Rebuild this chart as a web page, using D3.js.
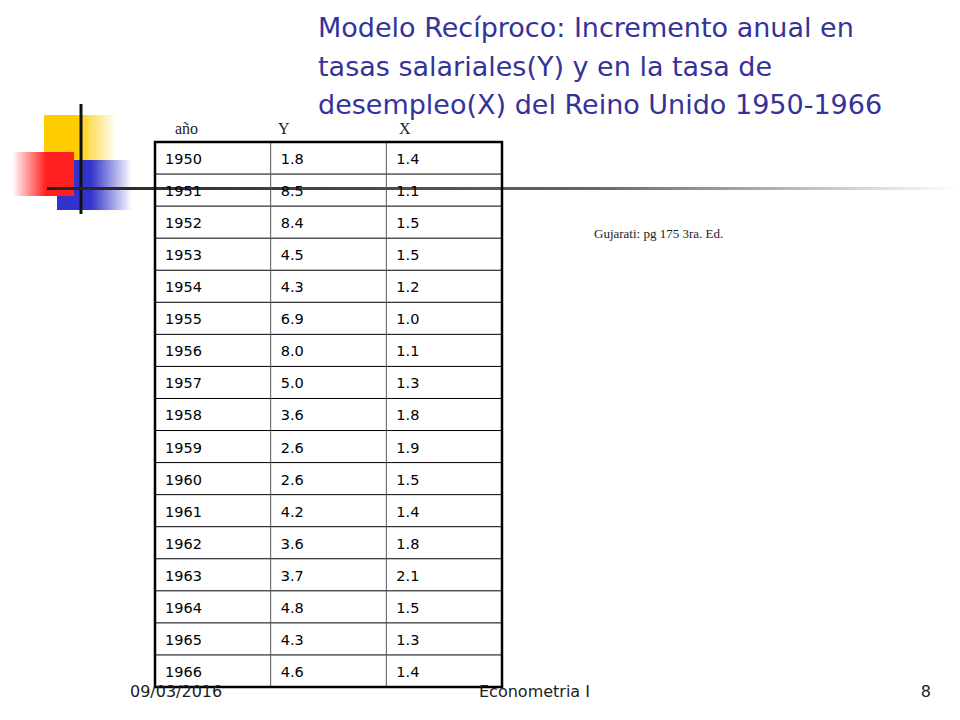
<!DOCTYPE html><html><head><meta charset="utf-8"><script src="https://cdn.jsdelivr.net/npm/d3@7"></script>
<style>body{margin:0;background:#fff}</style></head><body><svg id="s" width="960" height="720"></svg>
<script>
const years=[1950,1951,1952,1953,1954,1955,1956,1957,1958,1959,1960,1961,1962,1963,1964,1965,1966];
const Y=[1.8,8.5,8.4,4.5,4.3,6.9,8.0,5.0,3.6,2.6,2.6,4.2,3.6,3.7,4.8,4.3,4.6];
const X=[1.4,1.1,1.5,1.5,1.2,1.0,1.1,1.3,1.8,1.9,1.5,1.4,1.8,2.1,1.5,1.3,1.4];
const headers=["año","Y","X"];
const titleLines=["Modelo Recíproco: Incremento anual en","tasas salariales(Y) y en la tasa de","desempleo(X) del Reino Unido 1950-1966"];
const svg=d3.select("#s");
const defs=svg.append("defs");
function grad(id,x1,x2,c){const g=defs.append("linearGradient").attr("id",id).attr("x1",x1).attr("x2",x2).attr("y1",0).attr("y2",0);
g.append("stop").attr("offset","0.45").attr("stop-color",c);g.append("stop").attr("offset","1").attr("stop-color",c).attr("stop-opacity",0);}
grad("gy",0,1,"#ffcc00");grad("gr",1,0,"#ff2020");grad("gb",0,1,"#3333cc");
const gl=defs.append("linearGradient").attr("id","gl");gl.append("stop").attr("offset","0").attr("stop-color","#222");gl.append("stop").attr("offset","0.6").attr("stop-color","#666");gl.append("stop").attr("offset","1").attr("stop-color","#fff");
svg.append("rect").attr("x",44).attr("y",115).attr("width",72).attr("height",46).attr("fill","url(#gy)");
svg.append("rect").attr("x",57).attr("y",160).attr("width",75).attr("height",50).attr("fill","url(#gb)");
svg.append("rect").attr("x",12).attr("y",152).attr("width",62).attr("height",44).attr("fill","url(#gr)");
svg.append("line").attr("x1",81).attr("x2",81).attr("y1",104).attr("y2",214).attr("stroke","#111").attr("stroke-width",3);
svg.append("rect").attr("x",47).attr("y",187).attr("width",913).attr("height",3).attr("fill","url(#gl)");
svg.append("g").selectAll("text").data(titleLines).join("text").attr("x",318).attr("y",(d,i)=>37+i*38.5)
 .attr("font-family","DejaVu Sans").attr("font-size",27).attr("fill","#333399").text(d=>d);
const cols=d3.scaleLinear().domain([0,3]).range([155,502]);
const rows=d3.scaleLinear().domain([0,17]).range([142,687]);
const t=svg.append("g");
svg.append("g").selectAll("text").data(headers).join("text").attr("x",(d,i)=>[175,278,399][i]).attr("y",134)
 .attr("font-family","Liberation Serif").attr("font-size",16).attr("fill","#222").text(d=>d);
const data=years.map((y,i)=>[String(y),Y[i].toFixed(1),X[i].toFixed(1)]);
for(let r=1;r<17;r++)t.append("line").attr("x1",cols(0)).attr("x2",cols(3)).attr("y1",rows(r)).attr("y2",rows(r)).attr("stroke","#000").attr("stroke-width",1);
for(let c=1;c<3;c++)t.append("line").attr("x1",cols(c)).attr("x2",cols(c)).attr("y1",rows(0)).attr("y2",rows(17)).attr("stroke","#555").attr("stroke-width",1);
t.append("rect").attr("x",cols(0)).attr("y",rows(0)).attr("width",cols(3)-cols(0)).attr("height",rows(17)-rows(0)).attr("fill","none").attr("stroke","#000").attr("stroke-width",2.5);
data.forEach((row,r)=>row.forEach((v,c)=>t.append("text").attr("x",cols(c)+10).attr("y",rows(r)+22).attr("font-family","DejaVu Sans").attr("font-size",14.5).attr("fill","#000").text(v)));
svg.append("text").attr("x",594).attr("y",238).attr("font-family","Liberation Serif").attr("font-size",13).attr("fill","#222").text("Gujarati: pg 175 3ra. Ed.");
const f=svg.append("g").attr("font-family","DejaVu Sans").attr("font-size",16).attr("fill","#222");
f.append("text").attr("x",130).attr("y",697).text("09/03/2016");
f.append("text").attr("x",479).attr("y",697).text("Econometria I");
f.append("text").attr("x",931).attr("y",697).attr("text-anchor","end").text("8");
</script></body></html>
